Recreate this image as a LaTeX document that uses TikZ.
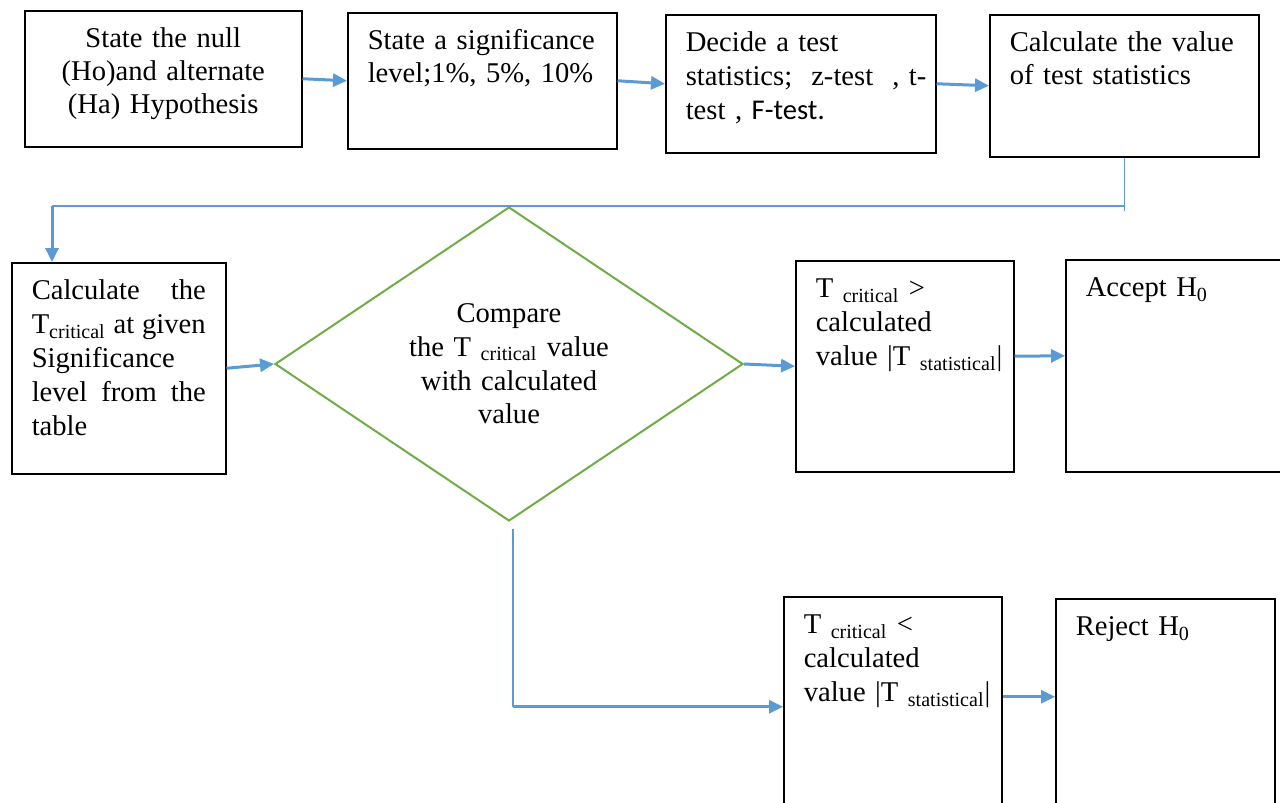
\documentclass[tikz,border=0pt]{standalone}
\usepackage{fontspec}
\setmainfont{Liberation Serif}
\newfontfamily\calibrifont{Carlito}
\usetikzlibrary{arrows.meta, shapes.geometric}
\definecolor{flowblue}{HTML}{5B9BD5}
\definecolor{decgreen}{HTML}{70AD47}
\hyphenpenalty=10000
\tikzset{
  box/.style={draw, line width=0.75pt, anchor=north west, inner xsep=10pt, inner ysep=0pt,
    align=left, text height=18.5pt, font=\fontsize{14.3}{17}\selectfont},
  toprow/.style={box, font=\fontsize{14.3}{16.5}\selectfont},
  decide/.style={diamond, draw=decgreen, line width=1pt, inner sep=0pt, aspect=1.5,
    align=center, text width=100pt, font=\fontsize{14.3}{16.8}\selectfont},
  flow/.style={draw=flowblue, line width=1.5pt, -{Triangle[length=7pt,width=6.5pt]}},
  link/.style={draw=flowblue, line width=0.6pt}
}
\begin{document}
\begin{tikzpicture}[x=0.5pt, y=-0.5pt]
\useasboundingbox (0,0) rectangle (1280,803);
\fill[white] (0,0) rectangle (1280,803);
\clip (0,0) rectangle (1280,803);
% first row
\node[toprow, align=center, text width=118.5pt, text depth=49.5pt] (null) at (24,10)
  {State the null\\\mbox{(Ho)and alternate}\\\mbox{(Ha) Hypothesis}};
\node[toprow, text width=114.5pt, text depth=49.5pt] (level) at (347,12)
  {\mbox{State a significance}\\\mbox{level;1\%, 5\%, 10\%}};
\node[box, text width=115pt, text depth=50.5pt] (stat) at (665,14)
  {Decide a test\\\mbox{statistics;\ \ z-test\ \ , t-}\\test , {\calibrifont F-test.}};
\node[toprow, text width=114.5pt, text depth=52.5pt] (value) at (989,14)
  {\mbox{Calculate the value}\\\mbox{of test statistics}};
% second row
\node[box, text width=87pt, text depth=87pt] (crit) at (11,262)
  {\makebox[87pt][l]{Calculate\hfill the}\\
   \makebox[87pt][l]{T\textsubscript{critical}\hfill at\hfill given}\\
   Significance\\
   \makebox[87pt][l]{level\hfill from\hfill the}\\
   table};
\node[decide, minimum width=234pt, minimum height=157pt] (compare) at (509,364)
  {Compare\\\mbox{the T \textsubscript{critical} value}\\\mbox{with calculated}\\value};
\node[box, text width=89pt, text depth=87pt] (greater) at (795,260)
  {T \textsubscript{critical} >\\calculated\\\mbox{value |T \textsubscript{statistical}|}};
\node[box, text width=90pt, text depth=87.5pt] (accept) at (1065,259)
  {Accept H\textsubscript{0}};
% third row
\node[box, text width=89pt, text depth=91.5pt] (less) at (783,596)
  {T \textsubscript{critical} <\\calculated\\\mbox{value |T \textsubscript{statistical}|}};
\node[box, text width=89.5pt, text depth=91.5pt] (reject) at (1055,598)
  {Reject H\textsubscript{0}};
% connectors
\foreach \a/\b in {null/level, level/stat, stat/value}
  \draw[flow] (\a.east) -- (\b.west);
\coordinate (jl) at (52,206);
\coordinate (jr) at (value.south |- jl);
\draw[link] (value.south) -- ([yshift=-2.5pt]jr);
\draw[link] (jr) -- (jl);
\draw[flow] (jl) -- (jl |- crit.north);
\draw[flow] (crit.east) -- (compare.west);
\draw[flow] (compare.east) -- (greater.west);
\draw[flow] ([yshift=5pt]greater.east) -- ([yshift=5pt]accept.west);
\coordinate (drop) at ([xshift=2pt,yshift=-3.5pt]compare.south);
\coordinate (turn) at (drop |- less.west);
\draw[link] (drop) -- (turn);
\draw[flow] (turn) -- (less.west);
\draw[flow] ([yshift=5pt]less.east) -- ([yshift=6pt]reject.west);
\end{tikzpicture}
\end{document}
